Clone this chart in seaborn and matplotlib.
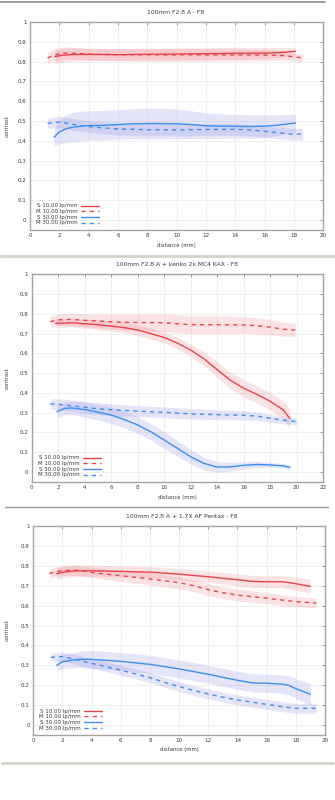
import matplotlib
matplotlib.use("Agg")
import matplotlib.pyplot as plt
from matplotlib.lines import Line2D
import numpy as np
import pandas as pd
import seaborn as sns

# ---------------- data: 100mm F2.8 A - F8 ----------------
A_S10_X = [1.7, 2.2, 3, 4, 6, 8, 10, 12, 14, 16, 17, 18.1]
A_S10_Y = [0.825, 0.832, 0.836, 0.836, 0.835, 0.837, 0.838, 0.840, 0.842, 0.843, 0.845, 0.852]
A_S10_E = [0.035, 0.035, 0.033, 0.03, 0.03, 0.03, 0.03, 0.03, 0.03, 0.028, 0.025, 0.02]

A_M10_X = [1.2, 1.6, 2.2, 3, 4, 5, 6, 8, 10, 12, 14, 16, 17, 17.6, 18.1, 18.6]
A_M10_Y = [0.818, 0.832, 0.843, 0.842, 0.838, 0.836, 0.835, 0.834, 0.834, 0.834, 0.834, 0.833, 0.832, 0.828, 0.822, 0.82]
A_M10_E = [0.03, 0.03, 0.03, 0.03, 0.03, 0.03, 0.03, 0.032, 0.032, 0.032, 0.03, 0.028, 0.025, 0.022, 0.02, 0.02]

A_S30_X = [1.65, 2, 2.5, 3, 4, 5, 6, 7, 8, 9, 10, 11, 12, 13, 14, 15, 16, 17, 18.1]
A_S30_Y = [0.418, 0.445, 0.462, 0.47, 0.477, 0.478, 0.482, 0.486, 0.487, 0.487, 0.486, 0.482, 0.476, 0.474, 0.473, 0.472, 0.474, 0.48, 0.49]
A_S30_E = [0.045, 0.06, 0.07, 0.075, 0.075, 0.075, 0.075, 0.075, 0.078, 0.078, 0.075, 0.07, 0.065, 0.062, 0.06, 0.06, 0.058, 0.052, 0.045]

A_M30_X = [1.2, 2, 3, 4, 5, 6, 8, 10, 12, 14, 15, 16, 17, 18, 18.6]
A_M30_Y = [0.488, 0.495, 0.482, 0.472, 0.465, 0.46, 0.456, 0.455, 0.457, 0.458, 0.455, 0.448, 0.44, 0.432, 0.435]
A_M30_E = [0.025, 0.03, 0.03, 0.03, 0.03, 0.03, 0.03, 0.03, 0.03, 0.03, 0.03, 0.03, 0.03, 0.03, 0.03]

# ---------------- data: + kenko 2x MC4 KAX ----------------
B_S10_X = [1.8, 3, 4, 5, 6, 7, 8, 9, 10, 11, 12, 13, 14, 15, 16, 17, 18, 19, 19.5]
B_S10_Y = [0.752, 0.755, 0.75, 0.745, 0.738, 0.73, 0.718, 0.70, 0.68, 0.652, 0.617, 0.573, 0.518, 0.464, 0.424, 0.393, 0.358, 0.314, 0.27]
B_S10_E = [0.02, 0.02, 0.022, 0.025, 0.025, 0.028, 0.028, 0.028, 0.028, 0.03, 0.032, 0.036, 0.04, 0.042, 0.042, 0.042, 0.044, 0.045, 0.047]

B_M10_X = [1.4, 2, 3, 4, 5, 6, 8, 10, 11, 12, 14, 16, 17, 18, 19, 19.9]
B_M10_Y = [0.76, 0.77, 0.772, 0.767, 0.764, 0.76, 0.756, 0.755, 0.75, 0.745, 0.745, 0.744, 0.74, 0.733, 0.722, 0.718]
B_M10_E = [0.028, 0.028, 0.03, 0.032, 0.035, 0.038, 0.042, 0.045, 0.045, 0.045, 0.045, 0.042, 0.04, 0.038, 0.035, 0.033]

B_S30_X = [1.9, 2.5, 3, 4, 5, 6, 7, 8, 9, 10, 11, 12, 13, 14, 15, 16, 17, 18, 19, 19.5]
B_S30_Y = [0.305, 0.322, 0.324, 0.316, 0.303, 0.288, 0.265, 0.238, 0.203, 0.162, 0.12, 0.077, 0.044, 0.025, 0.026, 0.034, 0.038, 0.036, 0.031, 0.024]
B_S30_E = [0.03, 0.032, 0.035, 0.038, 0.04, 0.042, 0.042, 0.042, 0.042, 0.042, 0.04, 0.038, 0.032, 0.026, 0.022, 0.018, 0.015, 0.013, 0.012, 0.012]

B_M30_X = [1.4, 2, 3, 4, 5, 6, 8, 10, 12, 14, 16, 17, 18, 19, 20]
B_M30_Y = [0.344, 0.343, 0.335, 0.327, 0.32, 0.315, 0.308, 0.302, 0.294, 0.29, 0.287, 0.283, 0.272, 0.262, 0.255]
B_M30_E = [0.025, 0.028, 0.03, 0.03, 0.03, 0.03, 0.028, 0.027, 0.026, 0.025, 0.024, 0.022, 0.02, 0.018, 0.017]

# ---------------- data: + 1.7X AF Pentax ----------------
C_S10_X = [1.6, 2, 3, 4, 6, 8, 10, 12, 14, 15, 16, 17, 17.5, 18, 19]
C_S10_Y = [0.76, 0.768, 0.775, 0.775, 0.772, 0.768, 0.758, 0.745, 0.73, 0.722, 0.72, 0.72, 0.716, 0.71, 0.697]
C_S10_E = [0.028, 0.028, 0.028, 0.028, 0.028, 0.028, 0.028, 0.028, 0.03, 0.03, 0.03, 0.03, 0.032, 0.034, 0.035]

C_M10_X = [1.1, 2, 3, 4, 5, 6, 8, 10, 11, 12, 13, 14, 16, 18, 19.4]
C_M10_Y = [0.762, 0.777, 0.778, 0.767, 0.758, 0.75, 0.734, 0.715, 0.7, 0.68, 0.665, 0.653, 0.637, 0.62, 0.613]
C_M10_E = [0.022, 0.025, 0.025, 0.026, 0.027, 0.028, 0.03, 0.03, 0.03, 0.03, 0.03, 0.03, 0.028, 0.026, 0.025]

C_S30_X = [1.6, 2, 3, 4, 6, 8, 10, 12, 14, 15, 16, 17, 17.5, 18, 19]
C_S30_Y = [0.30, 0.318, 0.33, 0.33, 0.32, 0.305, 0.282, 0.255, 0.225, 0.212, 0.21, 0.206, 0.2, 0.183, 0.155]
C_S30_E = [0.03, 0.035, 0.04, 0.045, 0.045, 0.045, 0.045, 0.045, 0.045, 0.046, 0.046, 0.046, 0.047, 0.05, 0.055]

C_M30_X = [1.2, 2, 3, 4, 5, 6, 7, 8, 9, 10, 11, 12, 13, 14, 15, 16, 17, 18, 19.4]
C_M30_Y = [0.34, 0.345, 0.327, 0.31, 0.293, 0.276, 0.257, 0.238, 0.215, 0.193, 0.174, 0.156, 0.14, 0.126, 0.115, 0.104, 0.093, 0.084, 0.084]
C_M30_E = [0.02, 0.022, 0.025, 0.025, 0.025, 0.025, 0.025, 0.025, 0.025, 0.025, 0.025, 0.025, 0.025, 0.025, 0.025, 0.025, 0.025, 0.025, 0.025]

TITLES = ["100mm F2.8 A - F8",
          "100mm F2.8 A + kenko 2x MC4 KAX - F8",
          "100mm F2.8 A + 1.7X AF Pentax - F8"]
LABELS = ["S 10.00 lp/mm", "M 10.00 lp/mm", "S 30.00 lp/mm", "M 30.00 lp/mm"]
X_MAX = [20, 22, 20]

PANELS = [
    [(A_S10_X, A_S10_Y, A_S10_E), (A_M10_X, A_M10_Y, A_M10_E),
     (A_S30_X, A_S30_Y, A_S30_E), (A_M30_X, A_M30_Y, A_M30_E)],
    [(B_S10_X, B_S10_Y, B_S10_E), (B_M10_X, B_M10_Y, B_M10_E),
     (B_S30_X, B_S30_Y, B_S30_E), (B_M30_X, B_M30_Y, B_M30_E)],
    [(C_S10_X, C_S10_Y, C_S10_E), (C_M10_X, C_M10_Y, C_M10_E),
     (C_S30_X, C_S30_Y, C_S30_E), (C_M30_X, C_M30_Y, C_M30_E)],
]

RED = "#e8434a"
BLUE = "#3d8ef2"
RED_BAND = "#ee7f84"
BLUE_BAND = "#8c8ce6"
LINE_COLORS = [RED, RED, BLUE, BLUE]
BAND_COLORS = [RED_BAND, RED_BAND, BLUE_BAND, BLUE_BAND]
STYLES = ["-", (0, (3, 3)), "-", (0, (3, 3))]

sns.set_theme(style="white")
plt.rcParams["font.family"] = ["DejaVu Sans"]

W, H = 335, 800
fig = plt.figure(figsize=(W / 100, H / 100), dpi=100)
fig.patch.set_facecolor("white")


def frac_box(left, top, right, bottom):
    return [left / W, 1 - bottom / H, (right - left) / W, (bottom - top) / H]


# axes boxes in pixels: left, top, right, bottom
BOXES = [(30.0, 22.0, 323.3, 229.9),
         (31.8, 274.3, 323.0, 481.9),
         (33.3, 526.0, 325.0, 735.0)]
TITLE_POS = [(176, 12), (177.5, 265), (181.5, 516)]
XLABEL_Y = [246, 497.7, 750]

TEXT_C = "#3a3a3a"

for p, series in enumerate(PANELS):
    ax = fig.add_axes(frac_box(*BOXES[p]))
    ax.set_facecolor("white")
    for i, (xs, ys, es) in enumerate(series):
        xs_a = np.asarray(xs)
        ys_a = np.asarray(ys)
        es_a = np.asarray(es)
        ax.fill_between(xs_a, ys_a - es_a, ys_a + es_a, color=BAND_COLORS[i],
                        alpha=0.22, lw=0, zorder=1)
    for i, (xs, ys, es) in enumerate(series):
        df = pd.DataFrame({"distance": xs, "contrast": ys})
        sns.lineplot(data=df, x="distance", y="contrast", ax=ax,
                     color=LINE_COLORS[i], linestyle=STYLES[i], lw=1.0,
                     label=LABELS[i], zorder=3)

    ax.set_xlim(0, X_MAX[p])
    ax.set_ylim(-0.05, 1.0)
    ax.set_xticks(np.arange(0, X_MAX[p] + 1, 2))
    ax.set_yticks(np.arange(0, 1.01, 0.1))
    ax.set_yticklabels(["0"] + [f"{v:.1f}" for v in np.arange(0.1, 0.95, 0.1)] + ["1"])
    ax.set_xlabel("")
    ax.set_ylabel("")
    ax.grid(True, color="#ededed", lw=0.6)
    ax.set_axisbelow(True)
    ax.tick_params(direction="in", top=True, right=True, length=2.2, width=0.6,
                   color="#8a8a8a", labelsize=4.1, labelcolor=TEXT_C, pad=2.5)
    for sp in ax.spines.values():
        sp.set_color("#a4a4a4")
        sp.set_linewidth(1.0)

    leg = ax.legend(loc="lower left", bbox_to_anchor=(0.005, 0.0), frameon=False,
                    markerfirst=False, fontsize=4.0, handlelength=3.2,
                    handletextpad=0.6, labelspacing=0.12, borderaxespad=0.4)
    for t in leg.get_texts():
        t.set_color(TEXT_C)

    cx, ty = TITLE_POS[p]
    fig.text(cx / W, 1 - ty / H, TITLES[p], ha="center", va="center",
             fontsize=4.3, color=TEXT_C)
    l, t, r, b = BOXES[p]
    fig.text((l + r) / 2 / W, 1 - XLABEL_Y[p] / H, "distance (mm)", ha="center",
             va="center", fontsize=3.8, color=TEXT_C)
    fig.text(7 / W, 1 - (t + b) / 2 / H, "contrast", ha="center", va="center",
             rotation=90, fontsize=3.8, color=TEXT_C)

# page separators
for y, x0, x1, col, lw in [(2, 0, 325, "#8e8e8e", 1.2),
                           (256, 0, 335, "#d6d2ca", 2.0),
                           (507, 5, 328, "#9a9a9a", 1.0),
                           (763, 2, 333, "#d6d2ca", 2.0)]:
    fig.add_artist(Line2D([x0 / W, x1 / W], [1 - y / H, 1 - y / H],
                          color=col, lw=lw, transform=fig.transFigure))

fig.savefig("out.png", dpi=100, facecolor="white")
